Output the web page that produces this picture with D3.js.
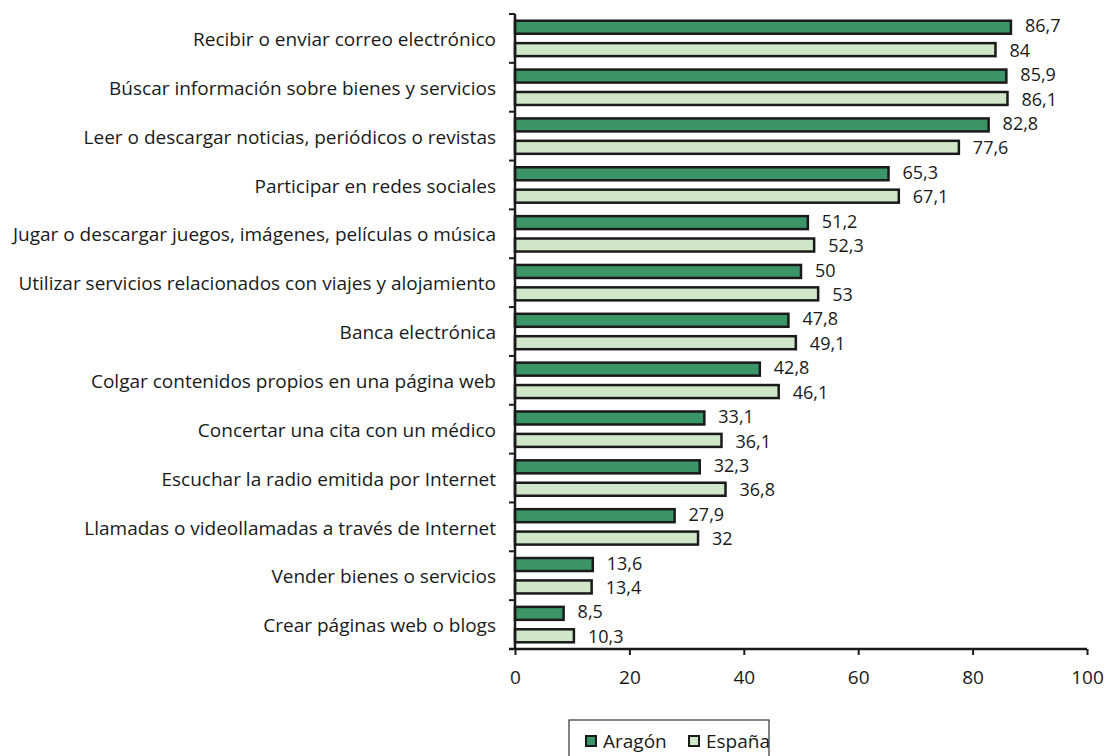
<!DOCTYPE html>
<html>
<head>
<meta charset="utf-8">
<script src="https://cdn.jsdelivr.net/npm/d3@7"></script>
<style>
	body { margin: 0; background: #fff; }
	text { font-family: "Open Sans", sans-serif; fill: #1a1a1a; }
</style>
</head>
<body>
<script>
(function () {
	"use strict";

	var w = 1109;
	var h = 756;

	// Data
	var categories = [
		"Recibir o enviar correo electrónico",
		"Búscar información sobre bienes y servicios",
		"Leer o descargar noticias, periódicos o revistas",
		"Participar en redes sociales",
		"Jugar o descargar juegos, imágenes, películas o música",
		"Utilizar servicios relacionados con viajes y alojamiento",
		"Banca electrónica",
		"Colgar contenidos propios en una página web",
		"Concertar una cita con un médico",
		"Escuchar la radio emitida por Internet",
		"Llamadas o videollamadas a través de Internet",
		"Vender bienes o servicios",
		"Crear páginas web o blogs"
	];
	var aragon = [86.7, 85.9, 82.8, 65.3, 51.2, 50, 47.8, 42.8, 33.1, 32.3, 27.9, 13.6, 8.5];
	var espana = [84, 86.1, 77.6, 67.1, 52.3, 53, 49.1, 46.1, 36.1, 36.8, 32, 13.4, 10.3];
	var seriesNames = ["Aragón", "España"];
	var xTicks = [0, 20, 40, 60, 80, 100];

	var colors = ["#3b9567", "#cfe6c9"];

	var svg = d3.select("body")
		.append("svg")
		.attr("width", w)
		.attr("height", h);

	// Scales
	var xScale = d3.scaleLinear()
		.domain([0, 100])
		.range([515, 1087]);

	var yScale = d3.scaleBand()
		.domain(categories)
		.range([14, 649]);

	var inner = d3.scaleBand()
		.domain(seriesNames)
		.range([0, yScale.bandwidth()])
		.paddingInner(0.42)
		.paddingOuter(0.3);

	var rows = categories.map(function (c, i) {
		return { cat: c, vals: [aragon[i], espana[i]] };
	});

	// Bars
	var group = svg.selectAll(".row")
		.data(rows)
		.enter().append("g")
		.attr("class", "row")
		.attr("transform", (d) => "translate(0," + yScale(d.cat) + ")");

	group.selectAll("rect")
		.data((d) => d.vals.map((v, j) => ({ v: v, s: seriesNames[j], j: j })))
		.enter().append("rect")
		.attr("x", xScale(0))
		.attr("y", (d) => inner(d.s))
		.attr("width", (d) => xScale(d.v) - xScale(0))
		.attr("height", inner.bandwidth())
		.attr("fill", (d) => colors[d.j])
		.attr("stroke", "#1a1a1a")
		.attr("stroke-width", 2.5);

	// value labels, nudged apart a little so stacked ones do not touch
	group.selectAll(".val")
		.data((d) => d.vals.map((v, j) => ({ v: v, s: seriesNames[j], j: j })))
		.enter().append("text")
		.attr("class", "val")
		.attr("x", (d) => xScale(d.v) + 14)
		.attr("y", (d) => inner(d.s) + inner.bandwidth() / 2 + (d.j === 0 ? -1 : 1))
		.attr("dy", "0.34em")
		.style("font-size", "18px")
		.text((d) => String(d.v).replace(".", ","));

	// Axes
	svg.append("line")
		.attr("x1", xScale(0)).attr("x2", xScale(0))
		.attr("y1", yScale.range()[0]).attr("y2", yScale.range()[1])
		.attr("stroke", "#1a1a1a").attr("stroke-width", 2.5);

	// category boundary ticks
	svg.selectAll(".ytick")
		.data(categories.concat([null]))
		.enter().append("line")
		.attr("class", "ytick")
		.attr("x1", xScale(0) - 6).attr("x2", xScale(0))
		.attr("y1", (d, i) => yScale.range()[0] + i * yScale.step())
		.attr("y2", (d, i) => yScale.range()[0] + i * yScale.step())
		.attr("stroke", "#1a1a1a").attr("stroke-width", 2);

	svg.selectAll(".cat")
		.data(categories)
		.enter().append("text")
		.attr("class", "cat")
		.attr("x", 496)
		.attr("y", (d) => yScale(d) + yScale.bandwidth() / 2 + 1)
		.attr("dy", "0.35em")
		.attr("text-anchor", "end")
		.style("font-size", "19px")
		.text((d) => d);

	var xAxis = svg.append("g")
		.attr("transform", "translate(0," + yScale.range()[1] + ")")
		.call(d3.axisBottom(xScale).tickValues(xTicks).tickSize(6).tickPadding(16));
	xAxis.select(".domain")
		.attr("stroke", "#1a1a1a").attr("stroke-width", 2.5)
		.attr("d", "M" + (xScale(0) - 6) + ",0H" + xScale(100));
	xAxis.selectAll(".tick line").attr("stroke", "#1a1a1a").attr("stroke-width", 2);
	xAxis.selectAll(".tick text")
		.style("font-size", "19px")
		.style("font-family", "'Open Sans', sans-serif")
		.attr("fill", "#1a1a1a");

	// Legend
	var legend = svg.append("g").attr("transform", "translate(569,720)");
	legend.append("rect")
		.attr("width", 200).attr("height", 40)
		.attr("fill", "none").attr("stroke", "#333").attr("stroke-width", 1.2);
	var items = legend.selectAll(".leg")
		.data(seriesNames)
		.enter().append("g")
		.attr("transform", (d, i) => "translate(" + (17 + i * 103) + ",0)");
	items.append("rect")
		.attr("y", 16).attr("width", 10).attr("height", 10)
		.attr("fill", (d, i) => colors[i])
		.attr("stroke", "#1a1a1a").attr("stroke-width", 2);
	items.append("text")
		.attr("x", 17).attr("y", 21)
		.attr("dy", "0.36em")
		.style("font-size", "19px")
		.text((d) => d);
})();
</script>
</body>
</html>
